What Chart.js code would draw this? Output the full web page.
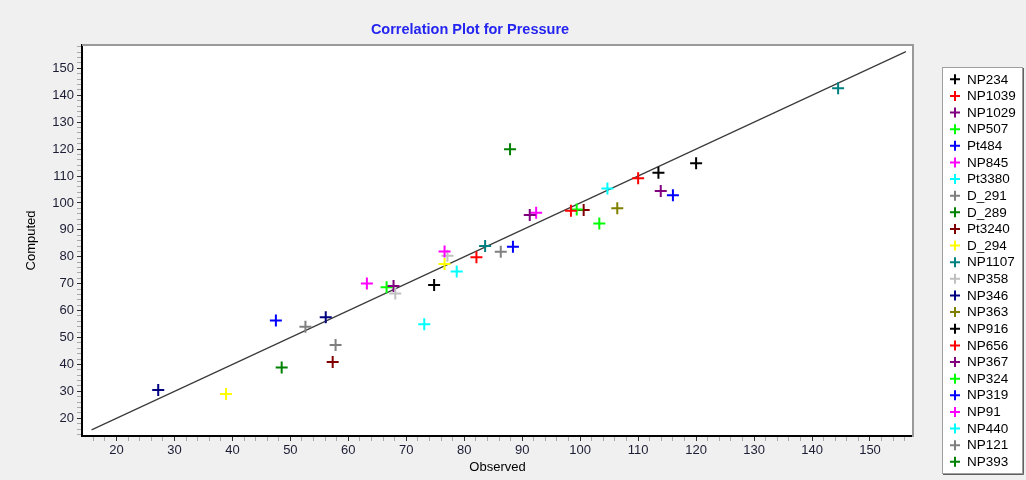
<!DOCTYPE html>
<html>
<head>
<meta charset="utf-8">
<script src="https://cdn.jsdelivr.net/npm/chart.js@4/dist/chart.umd.min.js"></script>
<style>
  html, body { margin: 0; padding: 0; background: #f0f0f0; }
  #wrap { width: 1026px; height: 480px; }
</style>
</head>
<body>
<div id="wrap"><canvas id="corr-chart" width="1026" height="480"></canvas></div>
<script>
// Data
const seriesNames = ['NP234', 'NP1039', 'NP1029', 'NP507', 'Pt484', 'NP845', 'Pt3380', 'D_291',
  'D_289', 'Pt3240', 'D_294', 'NP1107', 'NP358', 'NP346', 'NP363', 'NP916', 'NP656', 'NP367',
  'NP324', 'NP319', 'NP91', 'NP440', 'NP121', 'NP393'];

const observed = [
  [113.5, 120.0], [98.4, 110.0], [91.3, 113.9], [99.4, 103.3], [88.4, 116.0], [76.6, 92.4],
  [78.7, 104.7], [52.6, 86.3], [87.9], [57.3, 100.6], [38.9, 76.6], [83.6, 144.5],
  [68.1, 77.1], [27.2, 56.1], [106.4], [74.8], [82.1], [67.8],
  [66.6], [47.5], [63.2], [73.1], [57.8], [48.5]
];

const computed = [
  [111.2, 114.7], [97.1, 109.2], [95.5, 104.4], [97.6, 92.4], [83.7, 102.9], [82.0, 96.4],
  [74.5, 105.4], [54.0, 81.9], [119.9], [40.9, 97.4], [29.0, 77.3], [84.0, 142.6],
  [66.4, 80.4], [30.5, 57.5], [98.0], [69.5], [79.8], [69.1],
  [68.7], [56.3], [70.1], [54.9], [47.2], [38.9]
];

// y = x reference line end points
const refLine = [15.7, 156.2];

const seriesColors = ['#000000', '#ff0000', '#800080', '#00ff00', '#0000ff', '#ff00ff', '#00ffff', '#808080',
  '#008000', '#800000', '#ffff00', '#008080', '#c0c0c0', '#000080', '#808000', '#000000', '#ff0000', '#800080',
  '#00ff00', '#0000ff', '#ff00ff', '#00ffff', '#808080', '#008000'];

const FONT = 'Arial, "Liberation Sans", sans-serif';

const datasets = seriesNames.map((name, i) => ({
  type: 'scatter',
  label: name,
  data: observed[i].map((x, j) => ({x: x, y: computed[i][j]})),
  pointStyle: 'cross',
  pointRadius: 6,
  pointHoverRadius: 6,
  borderWidth: 2,
  borderColor: seriesColors[i],
  backgroundColor: seriesColors[i]
}));

datasets.push({
  type: 'line',
  label: '_fit',
  data: refLine.map(v => ({x: v, y: v})),
  borderColor: '#3a3a3a',
  borderWidth: 1.2,
  pointRadius: 0,
  fill: false,
  order: 10
});

// background, plot frame, title and legend box
const framePlugin = {
  id: 'frame',
  beforeDraw(chart) {
    const c = chart.ctx, a = chart.chartArea;
    c.save();
    c.fillStyle = '#f0f0f0';
    c.fillRect(0, 0, chart.width, chart.height);
    c.fillStyle = '#ffffff';
    c.fillRect(a.left, a.top, a.right - a.left, a.bottom - a.top);
    c.restore();
  },
  afterDraw(chart) {
    const c = chart.ctx, a = chart.chartArea;
    c.save();
    // top and right edges of the plot
    c.strokeStyle = '#9a9a9a';
    c.lineWidth = 2;
    c.beginPath();
    c.moveTo(a.left, a.top);
    c.lineTo(a.right, a.top);
    c.lineTo(a.right, a.bottom + 1);
    c.stroke();

    // title
    c.fillStyle = '#2424f0';
    c.font = 'bold 14.5px ' + FONT;
    c.textAlign = 'center';
    c.textBaseline = 'middle';
    c.fillText('Correlation Plot for Pressure', 470, 30);

    // legend
    const bx = 942, by = 67, bw = 80, bh = 406;
    c.fillStyle = '#ffffff';
    c.fillRect(bx, by, bw, bh);
    c.strokeStyle = '#a0a0a0';
    c.lineWidth = 1;
    c.strokeRect(bx + 0.5, by + 0.5, bw, bh);
    c.strokeStyle = '#606060';
    c.beginPath();
    c.moveTo(bx + bw + 1.5, by + 1);
    c.lineTo(bx + bw + 1.5, by + bh + 1.5);
    c.lineTo(bx + 1, by + bh + 1.5);
    c.stroke();

    c.font = '13.5px ' + FONT;
    c.textAlign = 'left';
    chart.data.datasets.forEach((ds, i) => {
      if (ds.type !== 'scatter') return;
      const y = 79.3 + i * 16.63;
      c.strokeStyle = ds.borderColor;
      c.lineWidth = 2;
      c.beginPath();
      c.moveTo(950, y); c.lineTo(960, y);
      c.moveTo(955, y - 5); c.lineTo(955, y + 5);
      c.stroke();
      c.fillStyle = '#000000';
      c.fillText(ds.label, 967, y + 0.5);
    });
    c.restore();
  }
};

const tickColor = ctx => (ctx.tick && Math.round(ctx.tick.value) % 10 === 0) ? '#303030' : '#a8a8a8';
const tickLabel = v => (Math.round(v) % 10 === 0 ? String(Math.round(v)) : '');

const options = {
  responsive: false,
  animation: false,
  devicePixelRatio: 1,
  layout: { padding: { top: 45, right: 113, left: 0, bottom: 0 } },
  plugins: {
    legend: { display: false },
    tooltip: { enabled: false },
    title: { display: false }
  },
  scales: {
    x: {
      type: 'linear',
      min: 14.05,
      max: 157.42,
      afterFit(scale) { scale.height = 44; },
      border: { display: true, color: '#000000', width: 2 },
      grid: { drawOnChartArea: false, drawTicks: true, tickLength: 5, tickColor: tickColor },
      ticks: {
        stepSize: 2,
        includeBounds: false,
        autoSkip: false,
        maxRotation: 0,
        padding: 2,
        color: '#1c1c34',
        font: { family: FONT, size: 13 },
        callback: tickLabel
      },
      title: {
        display: true,
        text: 'Observed',
        color: '#000000',
        font: { family: FONT, size: 13 },
        padding: { top: 0, bottom: 5 }
      }
    },
    y: {
      type: 'linear',
      min: 13.42,
      max: 158.67,
      afterFit(scale) { scale.width = 82; },
      border: { display: true, color: '#000000', width: 2 },
      grid: { drawOnChartArea: false, drawTicks: true, tickLength: 5, tickColor: tickColor },
      ticks: {
        stepSize: 2,
        includeBounds: false,
        autoSkip: false,
        padding: 3,
        color: '#1c1c34',
        font: { family: FONT, size: 13 },
        callback: tickLabel
      },
      title: {
        display: true,
        text: 'Computed',
        color: '#000000',
        font: { family: FONT, size: 13 },
        padding: { top: 24, bottom: 0 }
      }
    }
  }
};

const corrChart = new Chart(document.getElementById('corr-chart'), {
  type: 'scatter',
  data: { datasets },
  options,
  plugins: [framePlugin]
});
</script>
</body>
</html>
